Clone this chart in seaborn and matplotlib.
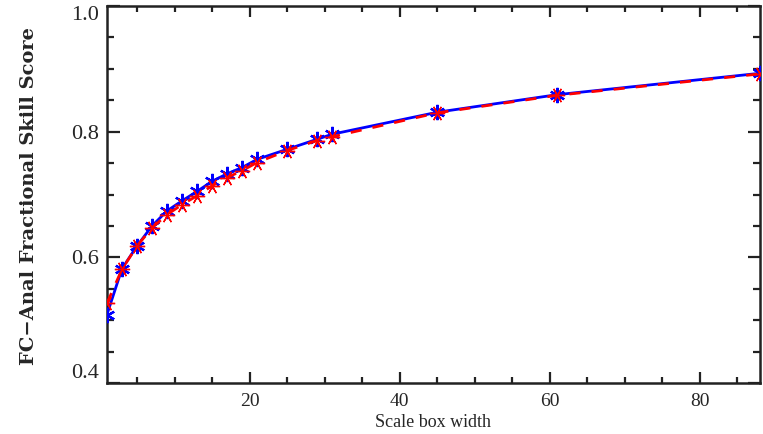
import matplotlib
matplotlib.use("Agg")
import matplotlib.pyplot as plt
from matplotlib.ticker import MultipleLocator, FixedLocator
import numpy as np
import pandas as pd
import seaborn as sns

# Fractional skill score of forecast vs analysis as the scale box widens
box_width = [1, 3, 5, 7, 9, 11, 13, 15, 17, 19, 21, 25, 29, 31, 45, 61, 88]
fss_blue = [0.509, 0.582, 0.618, 0.650, 0.674, 0.690, 0.705, 0.721, 0.733,
            0.743, 0.756, 0.772, 0.788, 0.796, 0.831, 0.859, 0.893]
fss_red = [0.527, 0.581, 0.618, 0.647, 0.668, 0.684, 0.698, 0.714, 0.727,
           0.738, 0.751, 0.770, 0.786, 0.792, 0.830, 0.858, 0.892]
x_ticks = [20, 40, 60, 80]
y_ticks = [0.4, 0.6, 0.8, 1.0]

sns.set_style("ticks")
plt.rcParams["font.family"] = ["Liberation Serif", "DejaVu Serif"]

df = pd.DataFrame({"width": box_width, "blue": fss_blue, "red": fss_red})

fig = plt.figure(figsize=(7.63, 4.34), dpi=100)
ax = fig.add_axes([0.1402, 0.1175, 0.8558, 0.8685])

sns.lineplot(data=df, x="width", y="blue", ax=ax, color="#0000ff",
             linewidth=2.0, marker=(6, 2, 0), markersize=11,
             markeredgewidth=1.6, markeredgecolor="#0000ff", zorder=3)
sns.lineplot(data=df, x="width", y="red", ax=ax, color="#ff0000",
             linewidth=2.0, linestyle=(0, (4, 4)), marker=(6, 2, 90),
             markersize=11, markeredgewidth=1.0, markeredgecolor="#ff0000",
             zorder=4)

ax.set_xlim(1, 88)
ax.set_ylim(0.4, 1.0)
ax.xaxis.set_major_locator(FixedLocator(x_ticks))
ax.xaxis.set_minor_locator(MultipleLocator(5))
ax.yaxis.set_major_locator(FixedLocator(y_ticks))
ax.yaxis.set_minor_locator(MultipleLocator(0.05))
ax.set_yticklabels([f"{v:.1f}" for v in y_ticks], fontsize=16)
ax.set_xticklabels([str(v) for v in x_ticks], fontsize=14)

# keep the end labels of the y axis inside the frame height
ylabels = ax.get_yticklabels()
ylabels[0].set_va("bottom")
ylabels[-1].set_va("top")

ax.tick_params(which="both", direction="in", top=True, right=True,
               color="#222222", width=1.6)
ax.tick_params(axis="y", which="major", length=9, pad=6)
ax.tick_params(axis="y", which="minor", length=5)
ax.tick_params(axis="x", which="major", length=8, pad=7)
ax.tick_params(axis="x", which="minor", length=4.5)

for s in ax.spines.values():
    s.set_visible(True)
    s.set_linewidth(1.8)
    s.set_color("#222222")

ax.set_xlabel("Scale box width", fontsize=13, labelpad=3)
ax.set_ylabel("FC\u2212Anal Fractional Skill Score", fontsize=14,
              fontweight="bold", family=["DejaVu Serif"])
ax.yaxis.set_label_coords(-0.105, 0.495)

fig.savefig("out.png", dpi=100)
